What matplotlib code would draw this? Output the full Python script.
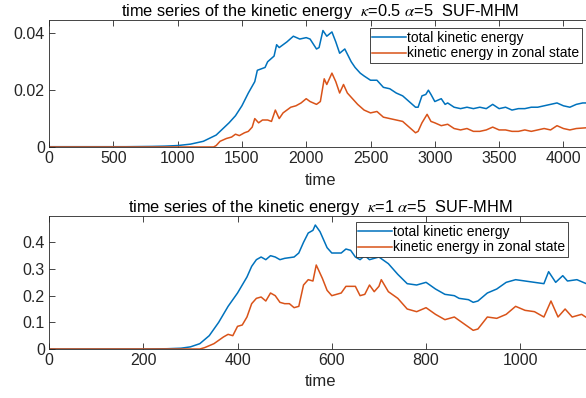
import matplotlib
matplotlib.use("Agg")
import matplotlib.pyplot as plt

plt.rcParams['font.family'] = ['Liberation Sans', 'DejaVu Sans']
plt.rcParams['mathtext.fontset'] = 'stix'

# ---------------- data: kappa = 0.5 ----------------
t_top = [0, 300, 600, 800, 900, 1000, 1100, 1200, 1300, 1400, 1450, 1500, 1550, 1600, 1620,
         1680, 1700, 1750, 1770, 1790, 1850, 1900, 1950, 2000, 2030, 2080, 2100, 2130, 2160,
         2200, 2230, 2260, 2300, 2350, 2380, 2420, 2450, 2500, 2550, 2600, 2650, 2700, 2750,
         2800, 2850, 2870, 2900, 2930, 2950, 2970, 3000, 3050, 3080, 3100, 3150, 3200, 3250,
         3300, 3350, 3400, 3450, 3500, 3550, 3600, 3650, 3700, 3750, 3800, 3850, 3900, 3950,
         4000, 4050, 4100, 4150, 4250]
ke_total_top = [0.0001, 0.0001, 0.0001, 0.0002, 0.0003, 0.0005, 0.001, 0.002, 0.0042, 0.0085,
                0.011, 0.0145, 0.019, 0.023, 0.027, 0.028, 0.030, 0.032, 0.036, 0.035, 0.037,
                0.039, 0.038, 0.0385, 0.038, 0.0345, 0.035, 0.041, 0.039, 0.0405, 0.037, 0.033,
                0.0345, 0.030, 0.028, 0.026, 0.025, 0.0235, 0.0235, 0.021, 0.0205, 0.019, 0.018,
                0.016, 0.014, 0.014, 0.018, 0.0185, 0.020, 0.0185, 0.016, 0.017, 0.015, 0.0155,
                0.014, 0.0135, 0.014, 0.0135, 0.014, 0.0135, 0.015, 0.0135, 0.014, 0.013, 0.0135,
                0.0135, 0.014, 0.014, 0.0145, 0.015, 0.0155, 0.0145, 0.014, 0.015, 0.0155, 0.0155]

t_top_z = [0, 1000, 1280, 1300, 1330, 1380, 1420, 1450, 1480, 1520, 1550, 1580, 1600, 1630,
           1660, 1700, 1730, 1760, 1790, 1820, 1850, 1880, 1920, 1960, 2000, 2030, 2080, 2110,
           2140, 2160, 2200, 2230, 2260, 2290, 2320, 2360, 2400, 2450, 2500, 2550, 2600, 2650,
           2700, 2750, 2800, 2850, 2870, 2900, 2940, 2970, 3000, 3050, 3100, 3150, 3200, 3250,
           3300, 3350, 3400, 3450, 3500, 3550, 3600, 3650, 3700, 3750, 3800, 3850, 3900, 3950,
           4000, 4050, 4100, 4250]
ke_zonal_top = [0.0, 0.0, 0.0, 0.0005, 0.002, 0.003, 0.0035, 0.0045, 0.004, 0.005, 0.0055,
                0.007, 0.010, 0.0085, 0.0095, 0.0095, 0.009, 0.013, 0.010, 0.012, 0.013, 0.014,
                0.0145, 0.0155, 0.017, 0.016, 0.015, 0.016, 0.024, 0.022, 0.026, 0.023, 0.019,
                0.022, 0.019, 0.017, 0.015, 0.013, 0.012, 0.0125, 0.0105, 0.010, 0.0095, 0.009,
                0.007, 0.005, 0.0055, 0.0085, 0.0115, 0.009, 0.0085, 0.0075, 0.008, 0.0065, 0.006,
                0.0065, 0.0055, 0.0055, 0.006, 0.007, 0.006, 0.006, 0.0055, 0.0055, 0.006, 0.0055,
                0.006, 0.0065, 0.006, 0.0075, 0.0065, 0.006, 0.0065, 0.007]

# ---------------- data: kappa = 1 ----------------
t_bot = [0, 200, 250, 280, 300, 320, 340, 360, 380, 400, 410, 420, 430, 440, 450, 460, 470,
         480, 490, 500, 520, 530, 540, 550, 560, 565, 575, 590, 600, 620, 630, 640, 650, 660,
         670, 680, 690, 700, 720, 740, 760, 780, 790, 800, 820, 840, 860, 870, 890, 900, 910,
         930, 950, 970, 990, 1010, 1030, 1050, 1060, 1075, 1090, 1100, 1120, 1140, 1160]
ke_total_bot = [0.0, 0.0, 0.001, 0.003, 0.008, 0.02, 0.05, 0.10, 0.16, 0.21, 0.24, 0.27, 0.31,
                0.335, 0.345, 0.335, 0.35, 0.345, 0.335, 0.34, 0.345, 0.36, 0.40, 0.435, 0.445,
                0.465, 0.44, 0.38, 0.36, 0.36, 0.375, 0.37, 0.345, 0.335, 0.35, 0.335, 0.34,
                0.345, 0.32, 0.28, 0.245, 0.24, 0.245, 0.25, 0.225, 0.205, 0.20, 0.19, 0.185,
                0.175, 0.18, 0.21, 0.225, 0.25, 0.26, 0.255, 0.25, 0.245, 0.29, 0.25, 0.275,
                0.255, 0.26, 0.245, 0.23]

t_bot_z = [0, 250, 320, 330, 350, 370, 380, 390, 400, 410, 420, 430, 440, 450, 460, 470, 480,
           490, 500, 510, 520, 530, 540, 550, 560, 567, 580, 590, 600, 620, 630, 650, 660, 670,
           680, 690, 700, 705, 720, 740, 760, 780, 800, 820, 840, 850, 860, 880, 900, 910, 930,
           950, 970, 990, 1010, 1030, 1050, 1065, 1080, 1095, 1110, 1130, 1160]
ke_zonal_bot = [0.0, 0.0, 0.0, 0.005, 0.02, 0.045, 0.055, 0.05, 0.085, 0.09, 0.12, 0.17, 0.19,
                0.195, 0.18, 0.21, 0.20, 0.175, 0.17, 0.17, 0.155, 0.16, 0.24, 0.26, 0.255,
                0.315, 0.265, 0.22, 0.20, 0.21, 0.235, 0.235, 0.20, 0.205, 0.24, 0.215, 0.235,
                0.26, 0.215, 0.19, 0.15, 0.14, 0.155, 0.13, 0.11, 0.115, 0.12, 0.095, 0.07,
                0.075, 0.12, 0.115, 0.13, 0.16, 0.145, 0.14, 0.12, 0.18, 0.12, 0.15, 0.12, 0.13,
                0.095]

blue = '#0072BD'
orange = '#D95319'
dark = '#262626'

fig = plt.figure(figsize=(5.86, 3.98), dpi=100)
ax1 = fig.add_axes([0.0836, 0.6307, 0.9266, 0.319])
ax2 = fig.add_axes([0.0836, 0.1231, 0.9266, 0.335])


def style(ax, lpad):
    for s in ax.spines.values():
        s.set_color(dark)
        s.set_linewidth(0.6)
    ax.tick_params(direction='in', top=True, right=True, length=4, width=0.6,
                   colors=dark, labelsize=11.5, pad=3)
    ax.set_xlabel('time', fontsize=12, color=dark, labelpad=lpad)


ax1.plot(t_top, ke_total_top, color=blue, lw=1.1, label='total kinetic energy')
ax1.plot(t_top_z, ke_zonal_top, color=orange, lw=1.1, label='kinetic energy in zonal state')
ax1.set_xlim(0, 4222)
ax1.set_ylim(0, 0.0447)
ax1.set_xticks(range(0, 4001, 500))
ax1.set_yticks([0, 0.02, 0.04])
ax1.set_yticklabels(['0', '0.02', '0.04'])
ax1.set_title(r'time series of the kinetic energy  $\kappa$=0.5 $\alpha$=5  SUF-MHM',
              fontsize=11.8, color='black', pad=3)
style(ax1, 5)

ax2.plot(t_bot, ke_total_bot, color=blue, lw=1.1, label='total kinetic energy')
ax2.plot(t_bot_z, ke_zonal_bot, color=orange, lw=1.1, label='kinetic energy in zonal state')
ax2.set_xlim(0, 1152)
ax2.set_ylim(0, 0.5)
ax2.set_xticks(range(0, 1001, 200))
ax2.set_yticks([0, 0.1, 0.2, 0.3, 0.4])
ax2.set_yticklabels(['0', '0.1', '0.2', '0.3', '0.4'])
ax2.set_title(r'time series of the kinetic energy  $\kappa$=1 $\alpha$=5  SUF-MHM',
              fontsize=11.8, color='black', pad=3)
style(ax2, 4)

for ax, anchor in [(ax1, (582 / 586, 1 - 28 / 398)), (ax2, (568 / 586, 1 - 222 / 398))]:
    leg = ax.legend(loc='upper right', bbox_to_anchor=anchor, bbox_transform=fig.transFigure,
                    fontsize=10, fancybox=False, framealpha=1, edgecolor=dark,
                    borderpad=0.2, labelspacing=0.12, handlelength=2.4, handletextpad=0.1,
                    borderaxespad=0)
    leg.get_frame().set_linewidth(0.6)

fig.savefig('out.png', dpi=100)
